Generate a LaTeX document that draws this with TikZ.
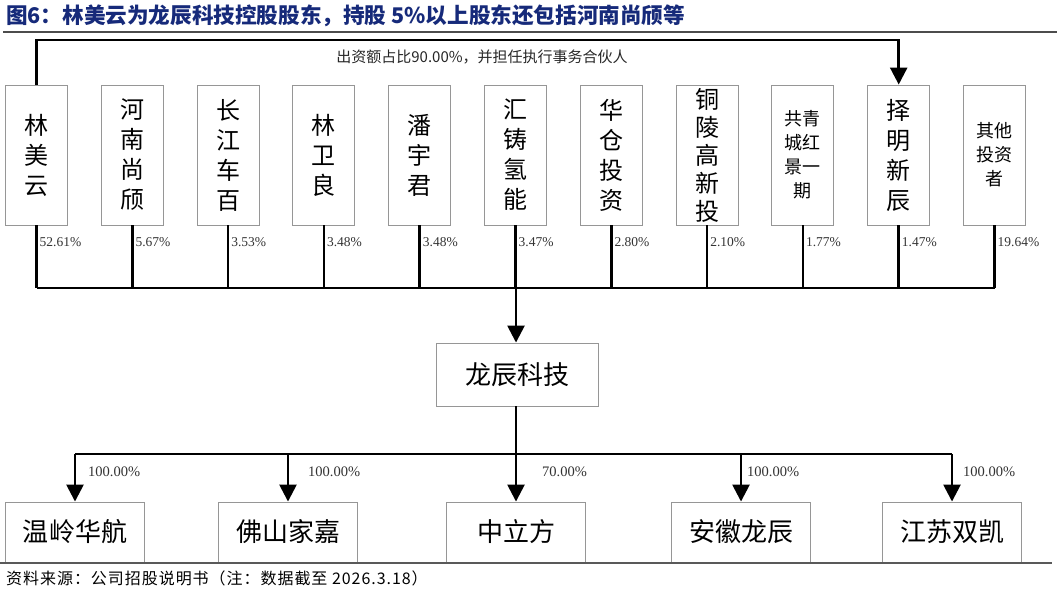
\documentclass[tikz,border=0pt]{standalone}
\usepackage{fontspec}
\setmainfont{Liberation Serif}
\newfontfamily\cjk{Noto Sans CJK SC}
\newfontfamily\cjkwide[LetterSpace=6]{Noto Sans CJK SC}
\usetikzlibrary{arrows.meta,positioning,calc}
\definecolor{titleblue}{RGB}{22,42,122}
\definecolor{boxgray}{RGB}{150,150,150}

\begin{document}
\begin{tikzpicture}[x=1pt, y=-1pt,
	holder/.style={draw=boxgray, line width=0.9pt, minimum width=62pt, minimum height=140pt, inner sep=0pt, align=center, font=\cjk\fontsize{24}{30}\selectfont},
	smallholder/.style={holder, font=\cjk\fontsize{18}{24}\selectfont},
	tallholder/.style={holder, font=\cjk\fontsize{24}{28}\selectfont},
	firm/.style={draw=boxgray, line width=0.9pt, minimum width=139pt, minimum height=60pt, inner sep=0pt, font=\cjk\fontsize{26}{30}\selectfont},
	pct/.style={anchor=west, inner sep=0pt, text=black!80, font=\fontsize{13.5}{15}\selectfont},
	bus/.style={line width=2.6pt},
	arr/.style={bus, -{Triangle[width=17pt,length=17pt]}}]
	\useasboundingbox (0,0) rectangle (1057,593);
	\node[anchor=west, inner sep=0pt, text=titleblue, font=\cjk\bfseries\fontsize{21.6}{23}\selectfont] (title) at (6,16) {图6：林美云为龙辰科技控股股东，持股 5\%以上股东还包括河南尚颀等};
	\draw[line width=1.2pt, black!70] (3,32) -- (1057,32);

	% shareholders
	\foreach \i/\st/\t/\p in {1/holder/{林\\美\\云}/52.61, 2/holder/{河\\南\\尚\\颀}/5.67, 3/holder/{长\\江\\车\\百}/3.53,
		4/holder/{林\\卫\\良}/3.48, 5/holder/{潘\\宇\\君}/3.48, 6/holder/{汇\\铸\\氢\\能}/3.47, 7/holder/{华\\仓\\投\\资}/2.80,
		8/tallholder/{铜\\陵\\高\\新\\投}/2.10, 9/smallholder/{共青\\城红\\景一\\期}/1.77, 10/holder/{择\\明\\新\\辰}/1.47,
		11/smallholder/{其他\\投资\\者}/19.64}{
		\node[\st] (s\i) at ({36.5+95.8*(\i-1)},155) {\t};
		\node[pct] (p\i) at ($(s\i.south)+(3,17)$) {\p\%};
	}
	\coordinate (busl) at (36.5,288);
	\coordinate (hub) at (516,288);
	\foreach \i in {1,...,11}
		\draw[bus] (s\i.south) -- (s\i.south |- busl);
	\draw[bus] (busl) -- (s11.south |- busl);

	% partner link
	\coordinate (top) at (0,40);
	\draw[arr] (s1.north) -- (s1.north |- top) -- (s10.north |- top) -- (s10.north);
	\node[font=\cjk\fontsize{15}{17}\selectfont, text=black!85] (gp) at (482,57) {出资额占比90.00\%，并担任执行事务合伙人};

	\node[draw=boxgray, line width=0.9pt, minimum width=162pt, minimum height=63pt, font=\cjk\fontsize{26}{30}\selectfont] (lc) at (517,374.5) {龙辰科技};
	\draw[arr] (hub) -- (hub |- lc.north);

	% subsidiaries
	\node[firm] (c1) at (75,532) {温岭华航};
	\node[firm] (c2) at (288,532) {佛山家嘉};
	\node[firm] (c3) at (516,532) {中立方};
	\node[firm] (c4) at (741,532) {安徽龙辰};
	\node[firm] (c5) at (952,532) {江苏双凯};
	\coordinate (cbus) at (0,454);
	\draw[bus] (c1.north |- cbus) -- (c5.north |- cbus);
	\draw[arr] (lc.south -| c3.north) -- (c3.north);
	\foreach \i in {1,2,4,5}
		\draw[arr] (c\i.north |- cbus) -- (c\i.north);
	\foreach \i/\dx/\p in {1/13/100.00, 2/20/100.00, 3/26/70.00, 4/6/100.00, 5/11/100.00}
		\node[pct, font=\fontsize{14.5}{16}\selectfont] (q\i) at ($(c\i.north |- cbus)+(\dx,18)$) {\p\%};

	\draw[line width=1.2pt, black!65] (0,563) -- (1052,563);
	\node[anchor=west, inner sep=0pt, font=\cjkwide\fontsize{16}{18}\selectfont] (src) at (6,578) {资料来源：公司招股说明书（注：数据截至 2026.3.18）};
\end{tikzpicture}
\end{document}
